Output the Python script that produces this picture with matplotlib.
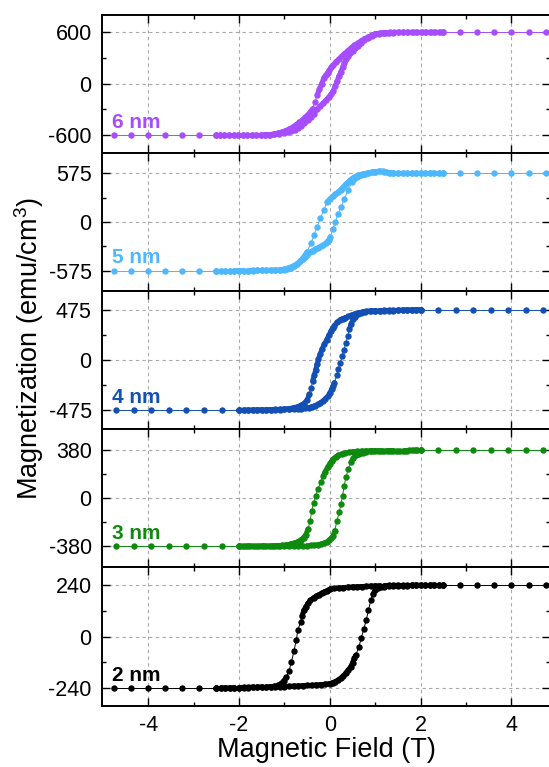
import matplotlib
matplotlib.use("Agg")
import numpy as np
import matplotlib.pyplot as plt
from matplotlib.ticker import FixedLocator
from matplotlib.collections import LineCollection

plt.rcParams['font.family'] = ['Liberation Sans', 'DejaVu Sans']
plt.rcParams['mathtext.fontset'] = 'custom'
plt.rcParams['mathtext.rm'] = 'Liberation Sans'
plt.rcParams['mathtext.it'] = 'Liberation Sans:italic'
plt.rcParams['axes.unicode_minus'] = False

labels = ['6 nm', '5 nm', '4 nm', '3 nm', '2 nm']
colors = ['#A64DFF', '#4DB8FF', '#1450B4', '#0E8A0E', '#000000']
m_sat = [600, 575, 475, 380, 240]
y_span = [810, 815, 652, 548, 322]

# sparse high-field points (positive side, mirrored for negative side)
outer_wide = [4.75, 4.375, 4.0, 3.625, 3.25, 2.875, 2.5]
outer_narrow = [4.7, 4.314, 3.929, 3.543, 3.157, 2.771, 2.386, 2.0]

## 6 nm
h6_dn = [2.5, 2.4, 2.3, 2.2, 2.1, 2.0, 1.9, 1.8, 1.7, 1.6, 1.5, 1.4, 1.3, 1.2, 1.1, 1.0,
         0.92, 0.84, 0.76, 0.69, 0.62, 0.54, 0.47, 0.4, 0.32, 0.26, 0.2, 0.13, 0.08, 0.03,
         -0.01, -0.05, -0.09, -0.13, -0.18, -0.23, -0.28, -0.33, -0.38,
         -0.43, -0.48, -0.54, -0.6, -0.67, -0.74, -0.82, -0.9, -0.98, -1.06, -1.15, -1.24, -1.33, -1.42,
         -1.52, -1.62, -1.72, -1.82, -1.92, -2.02, -2.12, -2.22, -2.32, -2.42, -2.5]
m6_dn = [600, 600, 600, 600, 600, 600, 600, 600, 600, 600, 600, 599, 598, 596, 592, 586,
         565, 546, 526, 503, 478, 449, 420, 388, 351, 322, 290, 254, 222, 190,
         156, 128, 100, 70, 0, -66, -137, -215, -293,
         -333, -362, -395, -422, -452, -480, -510, -533, -552, -567, -580, -590, -597, -600,
         -600, -600, -600, -600, -600, -600, -600, -600, -600, -600, -600]
h6_up = [-2.5, -2.42, -2.32, -2.22, -2.12, -2.02, -1.92, -1.82, -1.72, -1.62, -1.52,
         -1.42, -1.32, -1.22, -1.12, -1.02,
         -0.93, -0.85, -0.77, -0.7, -0.63, -0.56, -0.49, -0.42, -0.35, -0.28, -0.21, -0.14, -0.08, -0.02,
         0.03, 0.08, 0.12, 0.16, 0.2, 0.24, 0.28, 0.32, 0.36, 0.4,
         0.45, 0.5, 0.56, 0.62, 0.69, 0.76, 0.84, 0.92, 1.0, 1.08, 1.16, 1.24, 1.32,
         1.42, 1.52, 1.62, 1.72, 1.82, 1.92, 2.02, 2.12, 2.22, 2.32, 2.42, 2.5]
m6_up = [-600, -600, -600, -600, -600, -600, -600, -600, -600, -600, -600,
         -599, -597, -594, -589, -582,
         -572, -560, -540, -520, -496, -465, -428, -390, -350, -300, -262, -225, -190, -155,
         -122, -80, -25, 30, 90, 136, 190, 240, 285, 320,
         355, 385, 418, 446, 475, 510, 540, 562, 578, 588, 594, 598, 600,
         600, 600, 600, 600, 600, 600, 600, 600, 600, 600, 600, 600]

## 5 nm
h5_dn = [2.5, 2.4, 2.3, 2.2, 2.1, 2.0, 1.9, 1.8, 1.7, 1.6, 1.5, 1.4, 1.3, 1.2, 1.1, 1.0,
         0.92, 0.84, 0.76, 0.68, 0.62, 0.56, 0.5, 0.45, 0.4, 0.35, 0.3, 0.24, 0.18, 0.12, 0.06, 0.0,
         -0.06, -0.13, -0.21, -0.28, -0.35, -0.42, -0.5,
         -0.55, -0.6, -0.66, -0.72, -0.79, -0.86, -0.94, -1.02, -1.1,
         -1.2, -1.3, -1.4, -1.5, -1.6, -1.7, -1.8, -1.9, -2.0, -2.1, -2.2, -2.3, -2.4, -2.5]
m5_dn = [575, 575, 575, 574, 574, 574, 573, 573, 573, 573, 573, 574, 578, 588, 595, 592,
         584, 576, 567, 558, 550, 535, 515, 492, 468, 445, 414, 380, 350, 330, 300, 270,
         235, 137, 46, -58, -156, -254, -352,
         -395, -430, -465, -497, -525, -547, -560, -566, -569,
         -571, -572, -572, -573, -573, -574, -574, -574, -575, -575, -575, -575, -575, -575]
h5_up = [-2.5, -2.4, -2.3, -2.2, -2.1, -2.0, -1.9, -1.8, -1.7, -1.6, -1.5, -1.4, -1.3, -1.2, -1.1,
         -1.01, -0.93, -0.86, -0.79, -0.72, -0.66, -0.6, -0.55, -0.5, -0.44, -0.38, -0.32, -0.26,
         -0.2, -0.14, -0.09, -0.06, -0.02,
         0.01, 0.07, 0.12, 0.18, 0.25, 0.32, 0.4, 0.49,
         0.54, 0.6, 0.66, 0.72, 0.78, 0.85, 0.92, 1.0, 1.08, 1.16, 1.24, 1.32,
         1.4, 1.5, 1.6, 1.7, 1.8, 1.9, 2.0, 2.1, 2.2, 2.3, 2.4, 2.5]
m5_up = [-575, -575, -575, -575, -575, -574, -574, -574, -573, -573, -572, -572, -571, -570, -566,
         -559, -548, -533, -515, -492, -465, -437, -410, -385, -360, -340, -322, -305,
         -288, -270, -252, -235, -210,
         -176, -78, 0, 90, 176, 274, 372, 469,
         505, 532, 550, 562, 570, 578, 586, 593, 597, 596, 588, 578,
         575, 575, 575, 575, 575, 575, 575, 575, 575, 575, 575, 575]

## 4 nm
h4_dn = [2.0, 1.9, 1.8, 1.7, 1.6, 1.5, 1.4, 1.3, 1.2, 1.1, 1.0, 0.9, 0.8,
         0.72, 0.64, 0.55, 0.48, 0.41, 0.34, 0.28, 0.22, 0.16, 0.1, 0.06, 0.03,
         -0.02, -0.07, -0.12,
         -0.17, -0.21, -0.25, -0.28, -0.31, -0.34, -0.38, -0.41, -0.45,
         -0.5, -0.57, -0.64, -0.71, -0.8, -0.9, -1.0,
         -1.1, -1.2, -1.3, -1.4, -1.5, -1.6, -1.7, -1.8, -1.9, -2.0]
m4_dn = [475, 474, 473, 472, 471, 470, 470, 469, 469, 468, 468, 465, 460,
         455, 447, 437, 425, 412, 400, 392, 378, 355, 326, 300, 278,
         235, 190, 150,
         105, 60, 10, -40, -90, -140, -197, -260, -323,
         -375, -410, -428, -440, -450, -457, -462,
         -464, -466, -468, -469, -470, -471, -472, -473, -474, -475]
h4_up = [-2.0, -1.9, -1.8, -1.7, -1.6, -1.5, -1.4, -1.3, -1.2, -1.1, -1.0, -0.9, -0.8, -0.7,
         -0.63, -0.55, -0.47, -0.4, -0.33, -0.27, -0.21, -0.15, -0.1, -0.04, 0.0, 0.04, 0.07,
         0.1, 0.15, 0.19, 0.23, 0.27, 0.31, 0.35, 0.39, 0.43, 0.47,
         0.51, 0.55, 0.62, 0.69, 0.78, 0.88, 0.99,
         1.1, 1.2, 1.3, 1.4, 1.5, 1.6, 1.7, 1.8, 1.9, 2.0]
m4_up = [-475, -474, -473, -472, -471, -470, -470, -469, -468, -467, -466, -465, -464, -463,
         -460, -455, -448, -440, -430, -418, -403, -385, -365, -339, -310, -275, -245,
         -212, -145, -85, -25, 35, 95, 160, 225, 290, 345,
         385, 411, 432, 446, 455, 460, 463,
         465, 466, 467, 468, 469, 470, 471, 472, 473, 475]

## 3 nm
h3_dn = [2.0, 1.9, 1.8, 1.7, 1.6, 1.5, 1.4, 1.3, 1.2, 1.1, 1.0, 0.9, 0.8, 0.7, 0.6, 0.5,
         0.42, 0.34, 0.26, 0.19, 0.13, 0.08, 0.04, 0.0, -0.05, -0.1,
         -0.14, -0.2, -0.26, -0.31, -0.36, -0.4, -0.435, -0.48, -0.53,
         -0.58, -0.64, -0.71, -0.79, -0.87, -0.96, -1.05, -1.15,
         -1.25, -1.35, -1.45, -1.55, -1.65, -1.75, -1.85, -1.93, -2.0]
m3_dn = [380, 380, 380, 379, 379, 379, 379, 378, 378, 378, 378, 377, 376, 374, 372, 369,
         365, 359, 351, 341, 328, 312, 295, 275, 246, 212,
         180, 127, 74, 22, -40, -103, -177, -243, -290,
         -312, -330, -345, -356, -364, -369, -373, -376,
         -377, -378, -378, -379, -379, -379, -380, -380, -380]
h3_up = [-2.0, -1.9, -1.8, -1.7, -1.6, -1.5, -1.4, -1.3, -1.2, -1.1, -1.0, -0.9, -0.8, -0.7, -0.6, -0.5,
         -0.42, -0.34, -0.26, -0.19, -0.12, -0.06, -0.01, 0.03, 0.07, 0.11,
         0.155, 0.207, 0.244, 0.28, 0.317, 0.354, 0.406, 0.465,
         0.52, 0.58, 0.65, 0.72, 0.8, 0.88, 0.96, 1.05, 1.15,
         1.25, 1.35, 1.45, 1.55, 1.65, 1.75, 1.85, 1.93, 2.0]
m3_up = [-380, -380, -380, -379, -379, -379, -378, -378, -378, -377, -377, -377, -376, -376, -375, -375,
         -374, -372, -368, -363, -355, -345, -333, -318, -300, -256,
         -177, -111, -45, 21, 101, 167, 232, 285,
         318, 340, 355, 363, 369, 373, 375, 377, 378,
         378, 379, 379, 379, 379, 380, 380, 380, 380]

## 2 nm
h2_dn = [2.5, 2.4, 2.3, 2.2, 2.1, 2.0, 1.9, 1.8, 1.7, 1.6, 1.5, 1.4, 1.3, 1.2, 1.1, 1.0,
         0.9, 0.8, 0.7, 0.6, 0.5, 0.4, 0.3, 0.2, 0.1, 0.0,
         -0.06, -0.12, -0.18, -0.24, -0.3, -0.36, -0.43, -0.48, -0.53, -0.57,
         -0.61, -0.646, -0.705, -0.74, -0.79, -0.845, -0.9, -0.96,
         -1.02, -1.08, -1.15, -1.22, -1.3,
         -1.4, -1.5, -1.6, -1.7, -1.8, -1.9, -2.0, -2.1, -2.2, -2.3, -2.4, -2.5]
m2_dn = [240, 240, 240, 240, 240, 240, 240, 239, 239, 239, 239, 238, 238, 237, 237, 236,
         235, 234, 233, 232, 231, 230, 228, 226, 224, 221,
         214, 208, 202, 195, 188, 180, 168, 155, 138, 122,
         98, 68, 29, -17, -67, -118, -160, -190,
         -208, -220, -228, -232, -234,
         -235, -235, -236, -236, -237, -237, -238, -238, -239, -239, -240, -240]
h2_up = [-2.5, -2.4, -2.3, -2.2, -2.1, -2.0, -1.9, -1.8, -1.7, -1.6, -1.5, -1.4, -1.3, -1.2, -1.1, -1.0,
         -0.9, -0.8, -0.7, -0.6, -0.5, -0.4, -0.3, -0.2, -0.1, 0.0,
         0.06, 0.12, 0.18, 0.24, 0.3, 0.36, 0.41, 0.46, 0.5, 0.54, 0.57,
         0.64, 0.69, 0.75, 0.8, 0.85, 0.9, 0.95,
         1.0, 1.06, 1.12, 1.2,
         1.3, 1.4, 1.5, 1.6, 1.7, 1.8, 1.9, 2.0, 2.1, 2.2, 2.3, 2.4, 2.5]
m2_up = [-240, -240, -240, -239, -239, -239, -238, -238, -237, -237, -236, -236, -235, -235, -234, -233,
         -232, -231, -230, -229, -228, -227, -226, -224, -222, -219,
         -215, -210, -203, -194, -182, -168, -155, -141, -122, -102, -87,
         -48, -9, 37, 76, 122, 168, 198,
         215, 225, 230, 233,
         235, 236, 236, 237, 237, 238, 238, 239, 239, 239, 240, 240, 240]

branches = [(h6_dn, m6_dn, h6_up, m6_up, outer_wide),
            (h5_dn, m5_dn, h5_up, m5_up, outer_wide),
            (h4_dn, m4_dn, h4_up, m4_up, outer_narrow),
            (h3_dn, m3_dn, h3_up, m3_up, outer_narrow),
            (h2_dn, m2_dn, h2_up, m2_up, outer_wide)]


def draw_series(ax, h, m, c):
    # closely spaced points merge into a solid band, spread ones keep a thin joining line
    pts = ax.transData.transform(np.column_stack([h, m]))
    gaps = np.hypot(*np.diff(pts, axis=0).T)
    segs = [[(h[i], m[i]), (h[i + 1], m[i + 1])] for i in range(len(h) - 1)]
    widths = [3.6 if g < 6.5 else 0.7 for g in gaps]
    ax.add_collection(LineCollection(segs, colors=c, linewidths=widths, capstyle='round'))
    ax.plot(h, m, ls='none', color=c, marker='o', ms=4.6, mew=0)


fig, axes = plt.subplots(5, 1, figsize=(5.49, 7.67), dpi=100, sharex=True)
fig.subplots_adjust(left=0.186, right=1.002, top=0.981, bottom=0.080, hspace=0)

for ax, lab, c, ms, span, (hd, md, hu, mu, outer) in zip(axes, labels, colors, m_sat, y_span, branches):
    ax.set_xlim(-5.015, 4.85)
    ax.set_ylim(-span, span)

    draw_series(ax, hd, md, c)
    draw_series(ax, hu, mu, c)
    draw_series(ax, outer, [ms] * len(outer), c)
    draw_series(ax, [-h for h in outer], [-ms] * len(outer), c)

    ax.set_yticks([-ms, 0, ms])
    ax.yaxis.set_minor_locator(FixedLocator([-ms / 2, ms / 2]))
    ax.set_xticks([-4, -2, 0, 2, 4])
    ax.xaxis.set_minor_locator(FixedLocator([-3, -1, 1, 3]))
    ax.tick_params(which='both', direction='in', top=True, right=True, width=1.0, labelsize=15.5)
    ax.tick_params(which='major', length=5.5)
    ax.tick_params(which='minor', length=3)
    ax.tick_params(axis='y', pad=7.5)
    ax.tick_params(axis='x', pad=6.5)
    ax.set_axisbelow(True)
    ax.grid(True, which='major', color='#A8A8A8', ls=(0, (3, 3)), lw=0.8)
    for sp in ax.spines.values():
        sp.set_linewidth(1.4)

    ax.annotate(lab, xy=(-4.8, -ms), xytext=(0, 5.2), textcoords='offset points',
                color=c, fontsize=15, fontweight='bold', ha='left', va='baseline')

axes[-1].set_xlabel('Magnetic Field (T)', fontsize=19.5, labelpad=1)
fig.text(0.053, 0.545, 'Magnetization (emu/cm$^3$)', rotation=90, fontsize=19.5,
         ha='center', va='center')

plt.savefig('out.png', dpi=100)
